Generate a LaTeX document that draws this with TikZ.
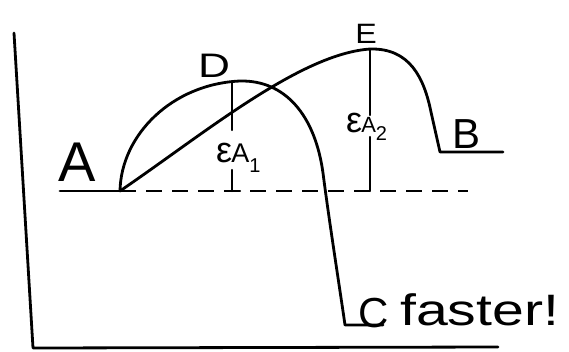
\documentclass[tikz,border=0pt]{standalone}
\usepackage{fontspec}
\setmainfont{Liberation Sans}
\tikzset{
  curve/.style={line width=2.8pt, line cap=round, line join=round},
  guide/.style={line width=2.4pt, line cap=round},
  dashline/.style={line width=2.2pt, dash pattern=on 16pt off 10pt},
  lbl/.style={inner sep=0pt, anchor=center}
}
\begin{document}
\begin{tikzpicture}[x=1pt,y=-1pt]
\useasboundingbox (0,0) rectangle (569,351);
\fill[white] (0,0) rectangle (569,351);
% axes
\coordinate (ytop) at (14,33);
\coordinate (origin) at (33,348);
\coordinate (xend) at (498,347);
\draw[curve] (ytop) -- (origin) -- (xend);
% levels and points
\coordinate (Astart) at (60,191);
\coordinate (A0) at (120,191);
\coordinate (Dpk) at (240,81);
\coordinate (Epk) at (370,49);
\coordinate (Cend) at (383,325);
\coordinate (Bend) at (503,152);
\coordinate (dashend) at (468,191);
\draw[curve] (Astart) -- (A0);
\draw[dashline] (A0) -- (dashend);
% path via D to C
\draw[curve] (A0) .. controls (121,135) and (172,84) .. (Dpk)
  .. controls (285,80) and (315,115) .. (323,173)
  .. controls (329,220) and (340,290) .. (345,325) -- (Cend);
% path via E to B
\draw[curve] (A0) .. controls (205,133) and (300,54) .. (Epk)
  .. controls (410,48) and (424,78) .. (431,112) -- (440,152) -- (Bend);
% activation energy markers
\coordinate (D1) at (232,82);
\coordinate (D2) at (232,130);
\coordinate (D3) at (232,170);
\coordinate (D4) at (232,191);
\draw[guide] (D1) -- (D2);
\draw[guide] (D3) -- (D4);
\draw[guide] (225,191) -- (240,191);
\coordinate (E1) at (370,50);
\coordinate (E2) at (370,115);
\coordinate (E3) at (370,137);
\coordinate (E4) at (370,191);
\draw[guide] (E1) -- (E2);
\draw[guide] (E3) -- (E4);
% labels
\node[lbl] (labA) at (77,162) {\fontsize{56}{56}\selectfont A};
\node[lbl, xscale=1.3] (labD) at (214,66) {\fontsize{34}{34}\selectfont D};
\node[lbl, xscale=1.15] (labE) at (366,34) {\fontsize{28}{28}\selectfont E};
\node[lbl] (labB) at (466,134) {\fontsize{42}{42}\selectfont B};
\node[lbl] (labC) at (374,313) {\fontsize{42}{42}\selectfont C};
\node[lbl, anchor=west, xscale=1.3] (labF) at (400,310) {\fontsize{44}{44}\selectfont faster!};
\node[lbl, anchor=west] (Ea1) at (216,158) {\fontsize{36}{36}\selectfont ε\kern-1pt\fontsize{27}{27}\selectfont A\raisebox{-10pt}{\fontsize{20}{20}\selectfont 1}};
\node[lbl, anchor=west] (Ea2) at (346,127) {\fontsize{36}{36}\selectfont ε\kern-1pt\fontsize{22}{22}\selectfont A\raisebox{-8pt}{\fontsize{20}{20}\selectfont 2}};
\end{tikzpicture}
\end{document}
